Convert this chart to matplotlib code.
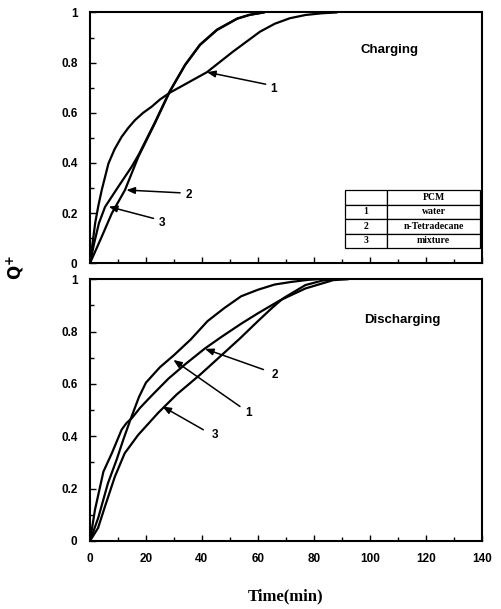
import matplotlib
matplotlib.use("Agg")
import matplotlib.pyplot as plt
from matplotlib.ticker import MultipleLocator

# charging curves (time in min, Q+)
t_chg1 = [0, 1.85, 3.0, 4.2, 6.6, 8.8, 11.3, 13.7, 16.1, 19, 22, 25, 28.5, 35, 41.8, 51, 60.7, 66, 71.4, 77, 83, 88]
q_chg1 = [0, 0.16, 0.23, 0.292, 0.398, 0.455, 0.504, 0.54, 0.571, 0.60, 0.624, 0.653, 0.68, 0.72, 0.762, 0.843, 0.923, 0.955, 0.977, 0.99, 0.997, 1.0]
t_chg2 = [0, 4.2, 7.8, 12.5, 17.3, 23.2, 28.5, 34, 39.3, 45.4, 52.6, 57, 62]
q_chg2 = [0, 0.106, 0.199, 0.292, 0.425, 0.558, 0.684, 0.79, 0.87, 0.93, 0.975, 0.99, 1.0]
t_chg3 = [0, 1.5, 3.2, 5.4, 10.1, 14.9, 17.5, 23.2, 28.5, 34, 39.3, 45.4, 52.6, 57, 62]
q_chg3 = [0, 0.08, 0.16, 0.225, 0.305, 0.385, 0.435, 0.562, 0.686, 0.792, 0.872, 0.932, 0.976, 0.991, 1.0]

# discharging curves
t_dis1 = [0, 3, 6.4, 9.5, 12, 14.5, 17.5, 20, 25, 30, 36, 42, 48, 54, 60, 66, 72, 78, 81]
q_dis1 = [0, 0.09, 0.22, 0.31, 0.39, 0.465, 0.55, 0.605, 0.664, 0.71, 0.77, 0.84, 0.89, 0.935, 0.96, 0.98, 0.99, 0.998, 1.0]
t_dis2 = [0, 1.8, 4.8, 7.8, 11.3, 13, 15, 18, 22, 28, 34, 41, 47, 54, 60, 68, 77, 87, 92]
q_dis2 = [0, 0.12, 0.265, 0.335, 0.425, 0.45, 0.47, 0.51, 0.555, 0.62, 0.675, 0.735, 0.78, 0.83, 0.87, 0.92, 0.965, 0.997, 1.0]
t_dis3 = [0, 2.9, 5.3, 8.9, 12.4, 17.2, 24.4, 31, 39.3, 46, 53.6, 60, 65, 69, 77, 83, 88]
q_dis3 = [0, 0.05, 0.13, 0.246, 0.335, 0.405, 0.49, 0.56, 0.635, 0.7, 0.774, 0.84, 0.89, 0.927, 0.978, 0.995, 1.0]

pcm_ids = ['1', '2', '3']
pcm_names = ['water', 'n-Tetradecane', 'mixture']

tickfont = {'family': 'Liberation Sans', 'weight': 'bold', 'size': 8.5}

fig = plt.figure(figsize=(5.01, 6.09), dpi=100)
ax1 = fig.add_axes([0.1796, 0.5677, 0.782, 0.4118])
ax2 = fig.add_axes([0.1796, 0.1117, 0.782, 0.4297])

def style(ax, show_x):
    ax.set_xlim(0, 140)
    ax.set_ylim(0, 1)
    ax.xaxis.set_major_locator(MultipleLocator(20))
    ax.xaxis.set_minor_locator(MultipleLocator(10))
    ax.yaxis.set_major_locator(MultipleLocator(0.2))
    ax.yaxis.set_minor_locator(MultipleLocator(0.1))
    ax.tick_params(which='both', direction='in', width=1.0)
    ax.tick_params(which='major', length=4)
    ax.tick_params(which='minor', length=3)
    ax.tick_params(axis='y', pad=9)
    ax.tick_params(axis='x', pad=9, labelbottom=show_x)
    ax.set_yticks([0, 0.2, 0.4, 0.6, 0.8, 1.0])
    ax.set_yticklabels(['0', '0.2', '0.4', '0.6', '0.8', '1'], fontdict=tickfont)
    if show_x:
        ax.set_xticks(range(0, 141, 20))
        ax.set_xticklabels([str(v) for v in range(0, 141, 20)], fontdict=tickfont)
    for s in ax.spines.values():
        s.set_linewidth(1.5)

def arrow(ax, head, tail, label, lab_xy):
    ax.annotate('', xy=head, xytext=tail,
                arrowprops=dict(arrowstyle='-|>,head_length=0.5,head_width=0.2',
                                color='black', lw=1.1, shrinkA=0, shrinkB=0))
    ax.text(lab_xy[0], lab_xy[1], label, fontdict={'family': 'Liberation Sans', 'weight': 'bold', 'size': 8.5},
            ha='center', va='center')

lw = 1.6
ax1.plot(t_chg1, q_chg1, color='black', lw=lw)
ax1.plot(t_chg2, q_chg2, color='black', lw=lw)
ax1.plot(t_chg3, q_chg3, color='black', lw=lw)
style(ax1, False)
ax1.text(107, 0.85, 'Charging', fontdict={'family': 'Liberation Sans', 'weight': 'bold', 'size': 9.5},
         ha='center', va='center')
arrow(ax1, (41.8, 0.762), (62.8, 0.714), '1', (65.7, 0.694))
arrow(ax1, (13.0, 0.292), (32.2, 0.281), '2', (35.2, 0.272))
arrow(ax1, (6.7, 0.226), (22.7, 0.179), '3', (25.9, 0.159))

cells = [['', 'PCM']] + [[i, n] for i, n in zip(pcm_ids, pcm_names)]
tbl = ax1.table(cellText=cells, cellLoc='center', colWidths=[0.309, 0.691],
                bbox=[0.651, 0.06, 0.345, 0.232])
tbl.auto_set_font_size(False)
for (r, c), cell in tbl.get_celld().items():
    cell.set_linewidth(0.9)
    cell.get_text().set_fontfamily('Liberation Serif')
    cell.get_text().set_fontweight('bold')
    cell.get_text().set_fontsize(7)

ax2.plot(t_dis1, q_dis1, color='black', lw=lw)
ax2.plot(t_dis2, q_dis2, color='black', lw=lw)
ax2.plot(t_dis3, q_dis3, color='black', lw=lw)
style(ax2, True)
ax2.text(111.7, 0.845, 'Discharging', fontdict={'family': 'Liberation Sans', 'weight': 'bold', 'size': 9.5},
         ha='center', va='center')
arrow(ax2, (41.1, 0.734), (62.0, 0.655), '2', (66.0, 0.635))
arrow(ax2, (29.8, 0.692), (53.6, 0.514), '1', (56.5, 0.488))
arrow(ax2, (25.9, 0.514), (40.5, 0.425), '3', (44.7, 0.405))

fig.text(0.57, 0.02, 'Time(min)', fontdict={'family': 'Liberation Serif', 'weight': 'bold', 'size': 12},
         ha='center', va='center')
fig.text(0.03, 0.56, r'$\mathbf{Q^{+}}$', fontsize=12, rotation=90, ha='center', va='center',
         family='Liberation Serif')

fig.savefig('out.png', dpi=100)
